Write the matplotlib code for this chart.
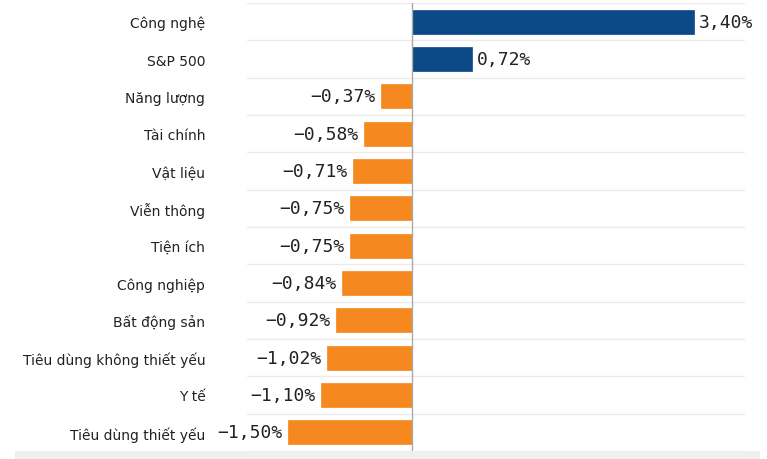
import matplotlib
matplotlib.use("Agg")
import matplotlib.pyplot as plt
from matplotlib.patches import Rectangle
import numpy as np

categories = ["Công nghệ", "S&P 500", "Năng lượng", "Tài chính", "Vật liệu",
              "Viễn thông", "Tiện ích", "Công nghiệp", "Bất động sản",
              "Tiêu dùng không thiết yếu", "Y tế", "Tiêu dùng thiết yếu"]
values = [3.40, 0.72, -0.37, -0.58, -0.71, -0.75, -0.75, -0.84, -0.92,
          -1.02, -1.10, -1.50]

BLUE = "#0b4a86"
ORANGE = "#f5881f"

fig = plt.figure(figsize=(7.67, 4.60), dpi=100)
fig.patches.append(Rectangle((15/767, 0), 745/767, 8/460, transform=fig.transFigure,
                             facecolor="#f0f0f0", edgecolor="none", zorder=0))
ax = fig.add_axes([247/767, 8/460, 498/767, 448/460])
ax.patch.set_alpha(0)

y = np.arange(len(categories))
colors = [BLUE if v > 0 else ORANGE for v in values]
ax.barh(y, values, height=0.64, color=colors, edgecolor=colors, linewidth=0.5, zorder=3)

for yi, v in zip(y, values):
    txt = f"{abs(v):.2f}%".replace(".", ",")
    if v >= 0:
        ax.annotate(txt, (v, yi), xytext=(4, 0), textcoords="offset points",
                    ha="left", va="center", fontsize=13, family="DejaVu Sans Mono",
                    color="#222222", annotation_clip=False)
    else:
        ax.annotate("\u2212" + txt, (v, yi), xytext=(-4, 0), textcoords="offset points",
                    ha="right", va="center", fontsize=13, family="DejaVu Sans Mono",
                    color="#222222", annotation_clip=False)

ax.set_xlim(-1.99, 4.02)
ax.set_ylim(len(categories) - 0.5, -0.5)
ax.set_yticks(y)
ax.set_yticklabels(categories, fontsize=10, color="#222222")
ax.tick_params(axis="y", length=0, pad=30)
ax.set_xticks([])
ax.set_yticks(np.arange(-0.5, len(categories), 1), minor=True)
ax.tick_params(axis="y", which="minor", length=0)
ax.grid(axis="y", which="minor", color="#ebebeb", linewidth=1, zorder=0)
ax.axvline(0, color="#aaaaaa", linewidth=1, zorder=4, ymin=-0.01, ymax=1)
for s in ax.spines.values():
    s.set_visible(False)

fig.savefig("out.png", dpi=100)
